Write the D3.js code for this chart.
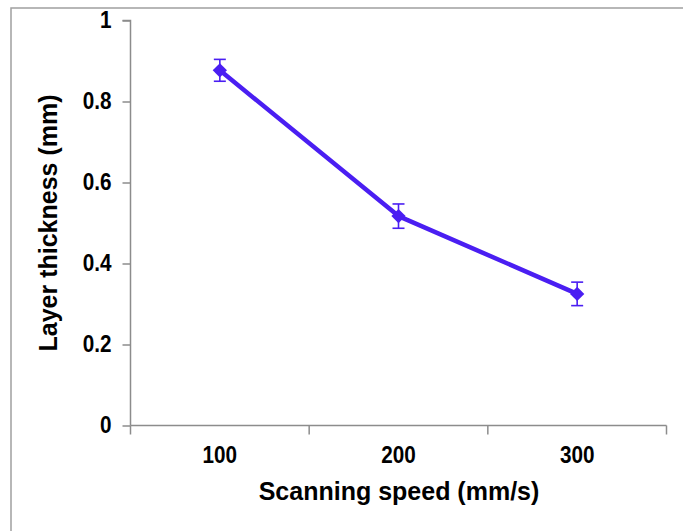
<!DOCTYPE html>
<html lang="en">
<head>
    <meta charset="UTF-8">
    <title>Layer thickness</title>
    <script src="https://d3js.org/d3.v7.min.js"></script>
    <style>
        * { margin: 0; padding: 0; box-sizing: border-box; }
        html, body { width: 683px; height: 531px; overflow: clip; background: #fff; }
        svg { display: block; font-family: "Liberation Sans", Arial, sans-serif; }
    </style>
</head>
<body>
<svg id="chart" width="683" height="531"></svg>
<script>
    const speeds = ["100", "200", "300"]
    const thickness = [0.877, 0.517, 0.325]
    const errors = [0.027, 0.03, 0.029]
    const yTicks = [0, 0.2, 0.4, 0.6, 0.8, 1]

    const color = "#4a1ef2"
    const axisColor = "#8c8c8c"
    const font = "Liberation Sans, Arial, sans-serif"
    const svg = d3.select("#chart")

    // outer frame, runs off the right and bottom edges
    svg.append("rect")
        .attr("x", 11).attr("y", 8)
        .attr("width", 700).attr("height", 600)
        .attr("fill", "none")
        .attr("stroke", "#a0a0a0")
        .attr("stroke-width", 1.5)

    const m = { left: 130.5, right: 666.5, top: 20.5, bottom: 425.5 }
    const x = d3.scaleBand().domain(speeds).range([m.left, m.right])
    const y = d3.scaleLinear().domain([0, 1]).range([m.bottom, m.top])

    // tick labels in the reference are a little condensed
    const squeeze = 0.9

    const xAxis = svg.append("g")
        .attr("transform", `translate(0,${m.bottom})`)
        .call(d3.axisBottom(x).tickSize(0).tickPadding(21))
    xAxis.select(".domain").remove()
    xAxis.selectAll("text")
        .style("font-size", "23px").attr("font-weight", "bold").attr("fill", "#000")
        .attr("font-family", font)
        .attr("transform", `scale(${squeeze},1)`)

    // x axis line and boundary ticks
    const xEdges = [m.left].concat(speeds.map(s => x(s) + x.bandwidth()))
    svg.append("line")
        .attr("x1", m.left).attr("x2", m.right)
        .attr("y1", m.bottom).attr("y2", m.bottom)
        .attr("stroke", axisColor).attr("stroke-width", 1.5)
    svg.selectAll(".xtick")
        .data(xEdges)
        .join("line")
        .attr("x1", d => d).attr("x2", d => d)
        .attr("y1", m.bottom).attr("y2", m.bottom + 9)
        .attr("stroke", axisColor).attr("stroke-width", 1.5)

    const yAxis = svg.append("g")
        .attr("transform", `translate(${m.left},0)`)
        .call(d3.axisLeft(y).tickValues(yTicks).tickSize(8).tickPadding(13)
            .tickFormat(d => d === 0 || d === 1 ? d3.format("d")(d) : d3.format(".1f")(d)))
    yAxis.select(".domain").attr("stroke", axisColor).attr("stroke-width", 1.5)
        .attr("d", `M-8,${m.top}H0V${m.bottom}`)
    yAxis.selectAll(".tick line").attr("stroke", axisColor).attr("stroke-width", 1.5)
    yAxis.selectAll("text")
        .style("font-size", "23px").attr("font-weight", "bold").attr("fill", "#000")
        .attr("font-family", font)
        .attr("transform", `scale(${squeeze},1)`)

    const pts = speeds.map((s, i) => ({ s, v: thickness[i], e: errors[i] }))
    const cx = d => x(d.s) + x.bandwidth() / 2

    svg.append("path")
        .datum(pts)
        .attr("fill", "none")
        .attr("stroke", color)
        .attr("stroke-width", 4.5)
        .attr("stroke-linejoin", "round")
        .attr("d", d3.line().x(cx).y(d => y(d.v)))

    const bars = svg.selectAll(".err")
        .data(pts)
        .join("g")
        .attr("stroke", color)
        .attr("stroke-width", 1.6)
    bars.append("line")
        .attr("x1", cx).attr("x2", cx)
        .attr("y1", d => y(d.v + d.e)).attr("y2", d => y(d.v - d.e))
    bars.append("line")
        .attr("x1", d => cx(d) - 6).attr("x2", d => cx(d) + 6)
        .attr("y1", d => y(d.v + d.e)).attr("y2", d => y(d.v + d.e))
    bars.append("line")
        .attr("x1", d => cx(d) - 6).attr("x2", d => cx(d) + 6)
        .attr("y1", d => y(d.v - d.e)).attr("y2", d => y(d.v - d.e))

    svg.selectAll(".pt")
        .data(pts)
        .join("path")
        .attr("transform", d => `translate(${cx(d)},${y(d.v)})`)
        .attr("d", d3.symbol(d3.symbolDiamond2, 130)())
        .attr("fill", color)

    svg.append("text")
        .attr("x", 399).attr("y", 500)
        .attr("text-anchor", "middle")
        .attr("font-size", 25).attr("font-weight", "bold").attr("fill", "#000")
        .attr("font-family", font)
        .text("Scanning speed (mm/s)")

    svg.append("text")
        .attr("transform", `translate(57,223) rotate(-90)`)
        .attr("text-anchor", "middle")
        .attr("font-size", 25).attr("font-weight", "bold").attr("fill", "#000")
        .attr("font-family", font)
        .text("Layer thickness (mm)")
</script>
</body>
</html>
